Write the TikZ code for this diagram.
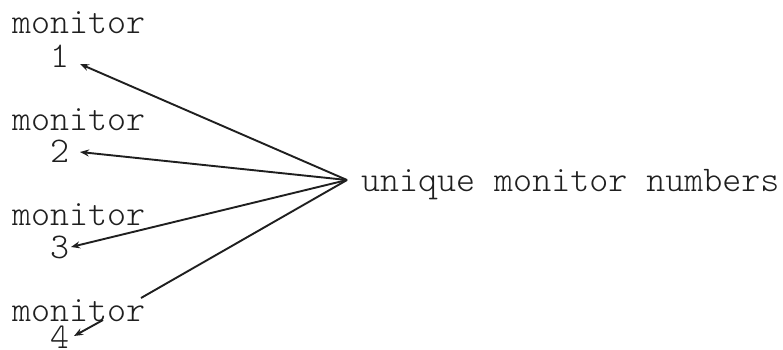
\documentclass[tikz,border=0pt]{standalone}
\usepackage{fontspec}
\newfontfamily\lightmono{lmmonolt10-regular.otf}
\usetikzlibrary{arrows.meta}
\definecolor{ink}{gray}{0.12}
\begin{document}
\begin{tikzpicture}[x=1pt,y=-1pt,
  lbl/.style={anchor=base west,inner sep=0pt,text=ink,font=\lightmono\fontsize{36.2}{38}\selectfont},
  conn/.style={draw=ink,line width=1.9pt},
  arr/.style={conn,-{Stealth[length=9pt,width=7pt]}}]
\useasboundingbox (0,0) rectangle (783,349);
% monitor labels
\node[lbl] (m1) at (12,33) {monitor};
\node[lbl] (n1) at (50,67) {1};
\node[lbl] (m2) at (12,130) {monitor};
\node[lbl] (n2) at (50,162) {2};
\node[lbl] (m3) at (12,225) {monitor};
\node[lbl] (n3) at (50,258) {3};
\node[lbl] (m4) at (12,321) {monitor};
\node[lbl] (n4) at (50,348) {4};
\node[lbl] (u) at (361,191) {unique monitor numbers};
% connector points
\coordinate (hub) at (347,180);
\coordinate (t1) at (80,64);
\coordinate (t2) at (80,152);
\coordinate (t3) at (71,247);
\coordinate (g1) at (141,298);
\coordinate (g2) at (103,320);
\coordinate (t4) at (74,336);
\draw[arr] (hub) -- (t1);
\draw[arr] (hub) -- (t2);
\draw[arr] (hub) -- (t3);
\draw[conn] (hub) -- (g1);
\draw[arr] (g2) -- (t4);
\end{tikzpicture}
\end{document}
